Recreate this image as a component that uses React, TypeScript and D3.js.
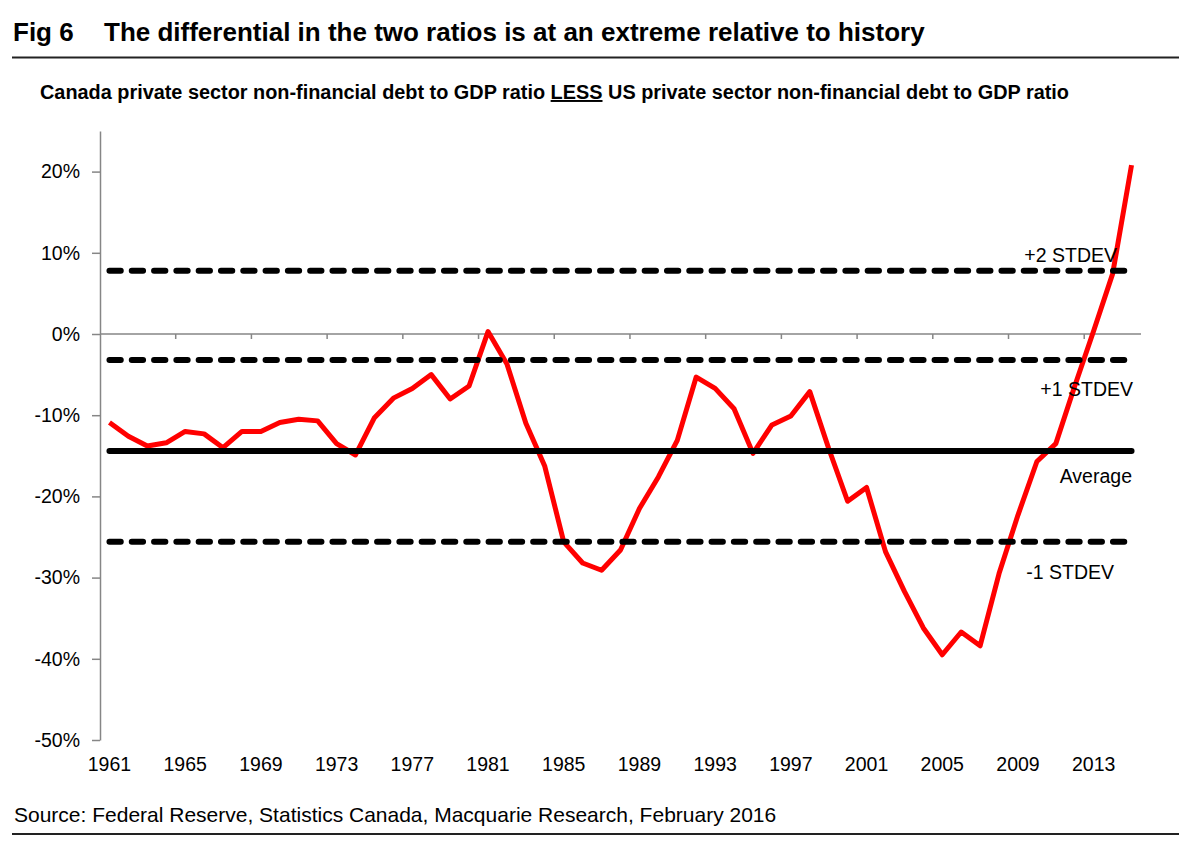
import React, { useEffect, useRef } from 'react';

import * as d3 from 'd3';

// Canada minus US private non-financial debt/GDP, percentage points
const years = d3.range(1961, 2016);
const diffValues = [
    -10.9, -12.6, -13.8, -13.4, -12.0, -12.3, -14.0, -12.0, -12.0, -10.9,
    -10.5, -10.7, -13.5, -14.9, -10.3, -7.9, -6.7, -5.0, -8.0, -6.4,
    0.3, -3.7, -11.0, -16.3, -25.6, -28.2, -29.1, -26.6, -21.5, -17.6,
    -13.1, -5.3, -6.7, -9.2, -14.7, -11.2, -10.1, -7.1, -14.1, -20.6,
    -18.9, -26.8, -31.7, -36.2, -39.5, -36.7, -38.4, -29.5, -22.3, -15.7,
    -13.5, -6.4, 0.4, 7.4, 20.8,
];

const tickYears = [1961, 1965, 1969, 1973, 1977, 1981, 1985, 1989, 1993, 1997, 2001, 2005, 2009, 2013];
const yTicks = [-50, -40, -30, -20, -10, 0, 10, 20];

// mean and +/- standard deviation bands
const bandLabels = ['+2 STDEV', '+1 STDEV', 'Average', '-1 STDEV'];
const bandValues = [7.8, -3.2, -14.4, -25.6];
const bandDashed = [true, true, false, true];

const FONT = '"Liberation Sans", Arial, Helvetica, sans-serif';
const AXIS_GREY = '#868686';

export default function App() {
    const svgRef = useRef<SVGSVGElement>(null);

    useEffect(() => {
        // init
        const svg = d3.select(svgRef.current);
        svg.selectAll('*').remove();

        const left = 100;
        const right = 1141;
        const top = 131;
        const bottom = 740;

        const x = d3.scaleBand<number>().domain(years).range([left, right]);
        const y = d3.scaleLinear().domain([-50, 25]).range([bottom, top]);
        const cx = (yr: number) => (x(yr) as number) + x.bandwidth() / 2;

        // header
        svg.append('text')
            .attr('x', 13)
            .attr('y', 41)
            .style('font-family', FONT)
            .style('font-weight', 'bold')
            .style('font-size', '26px')
            .text('Fig 6');

        svg.append('text')
            .attr('x', 104)
            .attr('y', 41)
            .style('font-family', FONT)
            .style('font-weight', 'bold')
            .style('font-size', '26px')
            .text('The differential in the two ratios is at an extreme relative to history');

        svg.append('line')
            .attr('x1', 12).attr('x2', 1179)
            .attr('y1', 57.5).attr('y2', 57.5)
            .attr('stroke', '#222')
            .attr('stroke-width', 2);

        const sub = svg.append('text')
            .attr('x', 40)
            .attr('y', 99)
            .attr('textLength', 1029)
            .attr('lengthAdjust', 'spacingAndGlyphs')
            .style('font-family', FONT)
            .style('font-weight', 'bold')
            .style('font-size', '19.5px');
        sub.append('tspan').text('Canada private sector non-financial debt to GDP ratio ');
        sub.append('tspan').style('text-decoration', 'underline').text('LESS');
        sub.append('tspan').text(' US private sector non-financial debt to GDP ratio');

        // y axis
        const yAxis = svg.append('g')
            .attr('transform', `translate(${left},0)`)
            .call(
                d3.axisLeft(y)
                    .tickValues(yTicks)
                    .tickSize(8)
                    .tickSizeOuter(0)
                    .tickPadding(12)
                    .tickFormat((d) => `${d}%`)
            );
        yAxis.attr('font-family', FONT).attr('font-size', 19.5);
        yAxis.select('.domain').attr('stroke', AXIS_GREY).attr('stroke-width', 1.5);
        yAxis.selectAll('.tick line').attr('stroke', AXIS_GREY).attr('stroke-width', 1.5);
        yAxis.selectAll('.tick text').attr('fill', '#000');

        // category axis sits on the zero line, labels stay at the bottom
        svg.append('line')
            .attr('x1', left).attr('x2', right)
            .attr('y1', y(0)).attr('y2', y(0))
            .attr('stroke', AXIS_GREY)
            .attr('stroke-width', 1.5);

        svg.append('g')
            .selectAll('line')
            .data(years.filter((_, i) => i > 0 && i % 4 === 0))
            .enter()
            .append('line')
            .attr('x1', (d) => x(d) as number)
            .attr('x2', (d) => x(d) as number)
            .attr('y1', y(0))
            .attr('y2', y(0) + 5)
            .attr('stroke', AXIS_GREY)
            .attr('stroke-width', 1.5);

        const xAxis = svg.append('g')
            .attr('transform', `translate(0,${bottom})`)
            .call(d3.axisBottom(x).tickValues(tickYears).tickSize(0).tickPadding(17));
        xAxis.attr('font-family', FONT).attr('font-size', 19.5);
        xAxis.select('.domain').remove();
        xAxis.selectAll('.tick text').attr('fill', '#000');

        // the differential
        const line = d3.line<number>()
            .x((_, i) => cx(years[i]))
            .y((d) => y(d));

        svg.append('path')
            .datum(diffValues)
            .attr('d', line)
            .attr('fill', 'none')
            .attr('stroke', '#ff0000')
            .attr('stroke-width', 5)
            .attr('stroke-linejoin', 'round');

        // average and stdev bands
        const first = years[0];
        const last = years[years.length - 1];
        bandValues.forEach((v, i) => {
            svg.append('line')
                .attr('x1', cx(first))
                .attr('x2', cx(last))
                .attr('y1', y(v))
                .attr('y2', y(v))
                .attr('stroke', '#000')
                .attr('stroke-width', 6)
                .attr('stroke-linecap', 'round')
                .attr('stroke-dasharray', bandDashed[i] ? '11.3,11' : null);
        });

        const labelPlacement = [
            { x: 1117, dy: -9 },
            { x: 1133, dy: 36 },
            { x: 1132, dy: 32 },
            { x: 1114, dy: 37 },
        ];
        bandLabels.forEach((label, i) => {
            svg.append('text')
                .attr('x', labelPlacement[i].x)
                .attr('y', y(bandValues[i]) + labelPlacement[i].dy)
                .attr('text-anchor', 'end')
                .style('font-family', FONT)
                .style('font-size', '19.5px')
                .text(label);
        });

        // footer
        svg.append('text')
            .attr('x', 14)
            .attr('y', 822)
            .style('font-family', FONT)
            .style('font-size', '21px')
            .text('Source: Federal Reserve, Statistics Canada, Macquarie Research, February 2016');

        svg.append('line')
            .attr('x1', 12).attr('x2', 1179)
            .attr('y1', 834).attr('y2', 834)
            .attr('stroke', '#222')
            .attr('stroke-width', 2);
    }, []);

    return (
        <svg
            ref={svgRef}
            width={1200}
            height={850}
            style={{ position: 'absolute', left: 0, top: 0, background: '#fff' }}
        />
    );
}
